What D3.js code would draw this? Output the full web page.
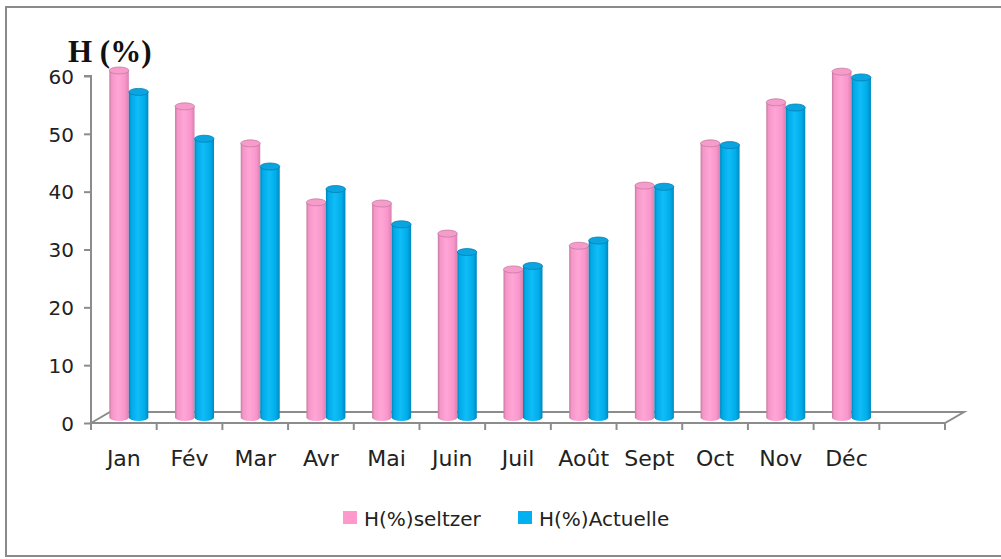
<!DOCTYPE html>
<html><head><meta charset="utf-8">
<script src="https://cdn.jsdelivr.net/npm/d3@7"></script>
<style>html,body{margin:0;padding:0;background:#fff;}svg{display:block;}</style>
</head><body>
<svg id="c" width="1001" height="559"></svg>
<script>
const months = ["Jan","Fév","Mar","Avr","Mai","Juin","Juil","Août","Sept","Oct","Nov","Déc"];
const seltzer = [60, 53.8, 47.4, 37.2, 37, 31.8, 25.6, 29.7, 40.1, 47.4, 54.5, 59.8];
const actuelle = [56.3, 48.2, 43.4, 39.5, 33.4, 28.6, 26.2, 30.6, 39.9, 47.1, 53.6, 58.8];
const yTicks = [0, 10, 20, 30, 40, 50, 60];
const seriesNames = ["H(%)seltzer", "H(%)Actuelle"];
const yTitle = "H (%)";

const svg = d3.select("#c");
const sans = "'DejaVu Sans', sans-serif";

// border
svg.append("rect").attr("x",6).attr("y",7).attr("width",1010).attr("height",549)
  .attr("fill","none").attr("stroke","#8a8a8a").attr("stroke-width",2);

// gradients
const defs = svg.append("defs");
function grad(id, stops){
  const g = defs.append("linearGradient").attr("id",id).attr("x1","0").attr("x2","1").attr("y1","0").attr("y2","0");
  stops.forEach(s=>g.append("stop").attr("offset",s[0]).attr("stop-color",s[1]));
}
grad("gp", [[0,"#c67a9f"],[0.12,"#f595c8"],[0.45,"#ffa6d6"],[0.8,"#f995cb"],[1,"#d882ae"]]);
grad("gb", [[0,"#0083b8"],[0.12,"#00aae8"],[0.45,"#10bdf7"],[0.8,"#00ade9"],[1,"#0088bf"]]);

const slots = months.concat([""]);
const x = d3.scaleBand().domain(d3.range(slots.length)).range([91, 945]).padding(0);
const y = d3.scaleLinear().domain([0, 60]).range([423, 76]);

const dx = 19, dy = -11; // depth of floor
const midDy = -5.5;

// floor
const floor = svg.append("g").attr("stroke","#8c8c8c").attr("stroke-width",2).attr("fill","none");
floor.append("path").attr("d",
  `M${x.range()[0]},${y(0)} L${x.range()[0]+dx},${y(0)+dy} L${x.range()[1]+dx},${y(0)+dy} L${x.range()[1]},${y(0)} Z`);

// y axis
const yAxis = d3.axisLeft(y).tickValues(yTicks).tickSize(7).tickPadding(10);
const ga = svg.append("g").attr("transform",`translate(${x.range()[0]},0)`).call(yAxis);
ga.select(".domain").attr("stroke","#8c8c8c").attr("stroke-width",2).attr("d",`M-7,${y(60)}H0V${y(0)+2}`);
ga.selectAll(".tick line").attr("stroke","#8c8c8c").attr("stroke-width",2);
ga.selectAll(".tick text").attr("font-family",sans).attr("font-size",20).attr("fill","#222").attr("dy","0.36em");

// x axis ticks
const gx = svg.append("g");
d3.range(slots.length+1).forEach(i=>{
  const xx = i < slots.length ? x(i) : x.range()[1];
  gx.append("line").attr("x1",xx).attr("x2",xx).attr("y1",y(0)).attr("y2",y(0)+7)
    .attr("stroke","#8c8c8c").attr("stroke-width",2);
});
gx.selectAll("text.m").data(months).enter().append("text")
  .attr("x",(d,i)=>x(i)+x.bandwidth()/2).attr("y",466)
  .attr("text-anchor","middle").attr("font-family",sans).attr("font-size",22).attr("fill","#222")
  .text(d=>d);

// bars (cylinders)
const bw = 19.5, ry = 3.5, off = 5;
function cyl(g, cx0, v, fillId, topFill, rim){
  const top = y(v) + midDy, base = y(0) + midDy;
  g.append("path").attr("d",
    `M${cx0},${top} L${cx0},${base} A${bw/2},${ry} 0 0 0 ${cx0+bw},${base} L${cx0+bw},${top} Z`)
    .attr("fill",`url(#${fillId})`);
  g.append("ellipse").attr("cx",cx0+bw/2).attr("cy",top).attr("rx",bw/2).attr("ry",ry)
    .attr("fill",topFill).attr("stroke",rim).attr("stroke-width",0.8);
}
const gb = svg.append("g");
months.forEach((m,i)=>{
  const c = x(i) + x.bandwidth()/2 + off;
  cyl(gb, c - bw, seltzer[i], "gp", "#f59ccb", "#c97aa2");
  cyl(gb, c, actuelle[i], "gb", "#0aa5e0", "#0080b5");
});

// title
svg.append("text").attr("x",68).attr("y",62).attr("font-family","'Liberation Serif', serif")
  .attr("font-weight","bold").attr("font-size",31).attr("fill","#111").text(yTitle);

// legend
const lg = svg.append("g");
const lcol = ["#ff99cc","#00b0f0"];
const lx = [343, 518];
seriesNames.forEach((n,i)=>{
  lg.append("rect").attr("x",lx[i]).attr("y",511).attr("width",14).attr("height",13).attr("fill",lcol[i]);
  lg.append("text").attr("x",lx[i]+21).attr("y",526).attr("font-family",sans).attr("font-size",20)
    .attr("fill","#222").text(n);
});
</script>
</body></html>
